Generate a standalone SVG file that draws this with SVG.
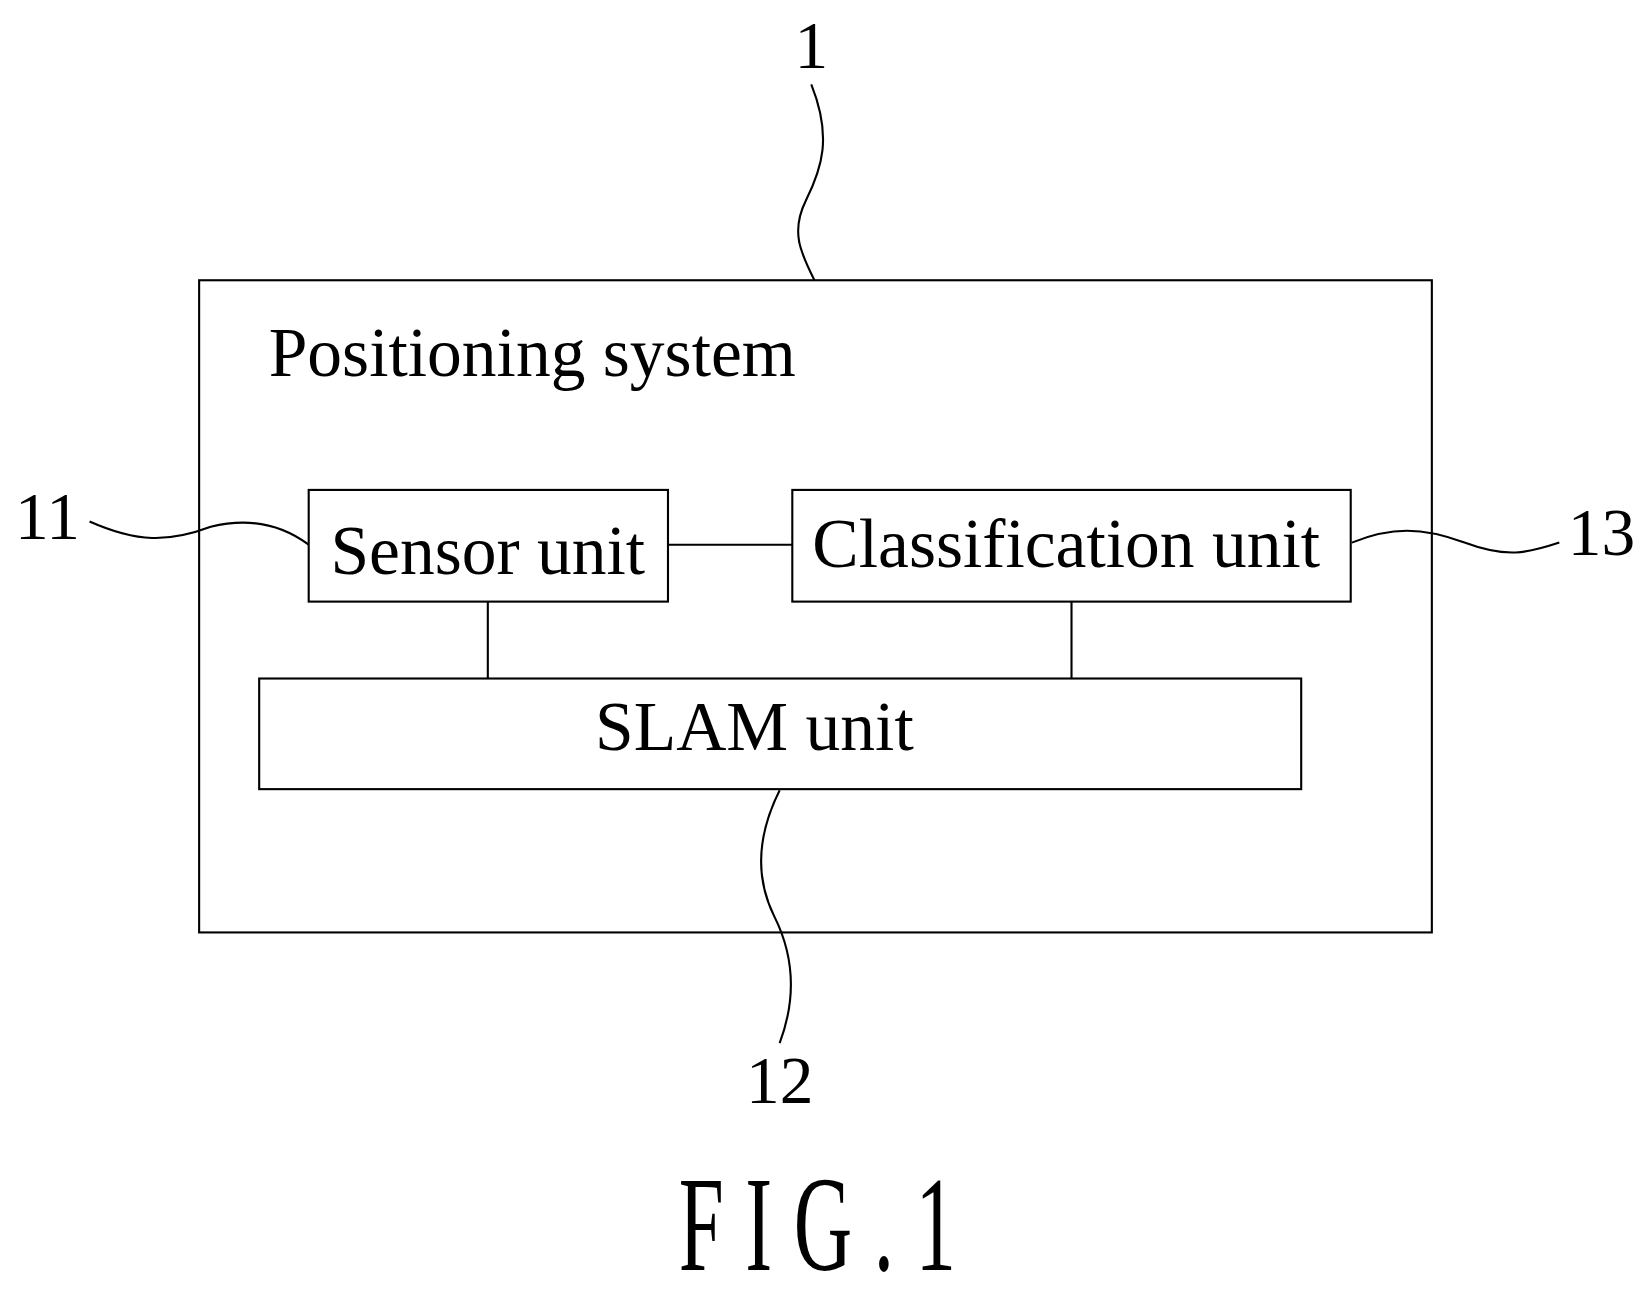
<svg xmlns="http://www.w3.org/2000/svg" width="1651" height="1305" viewBox="0 0 1651 1305">
<style>
.b{fill:none;stroke:#000;stroke-width:2}
.t{font-family:"Liberation Serif",serif;font-size:66px;fill:#000}
.n{font-family:"Liberation Serif",serif;font-size:64px;fill:#000;text-anchor:middle}
</style>
<rect width="1651" height="1305" fill="#fff"/>
<g transform="scale(1.0536)">
<g id="system"><rect class="b" x="189" y="266" width="1170" height="619"/><text class="t" x="255" y="357">Positioning system</text></g>
<g id="sensor"><rect class="b" x="293" y="465" width="341" height="106"/><text class="t" x="463" y="545" text-anchor="middle">Sensor unit</text></g>
<g id="classification"><rect class="b" x="752" y="465" width="530" height="106"/><text class="t" x="1012" y="538" text-anchor="middle">Classification unit</text></g>
<g id="slam"><rect class="b" x="246" y="644" width="989" height="105"/><text class="t" x="716" y="712" text-anchor="middle">SLAM unit</text></g>
<g id="connectors">
<path class="b" d="M634 517H752M463 571V644M1017 571V644"/>
<path class="b" d="M770 80C790 130 780 160 765 190C750 220 760 240 773 266"/>
<path class="b" d="M85 495C130 515 160 515 200 500C240 490 270 500 293 517"/>
<path class="b" d="M1283 515C1320 500 1350 500 1390 515C1430 530 1450 525 1480 515"/>
<path class="b" d="M740 750C720 790 715 830 735 870C755 910 755 950 740 990"/>
</g>
<g id="labels">
<text class="n" x="770" y="65">1</text>
<text class="n" x="45" y="512">11</text>
<text class="n" x="1520" y="527">13</text>
<text class="n" x="740" y="1047">12</text>
<text transform="scale(0.6,1)" x="1310" y="1205" font-family="Liberation Serif,serif" font-size="128" text-anchor="middle" letter-spacing="34">FIG.1</text>
</g>
</g>
</svg>
